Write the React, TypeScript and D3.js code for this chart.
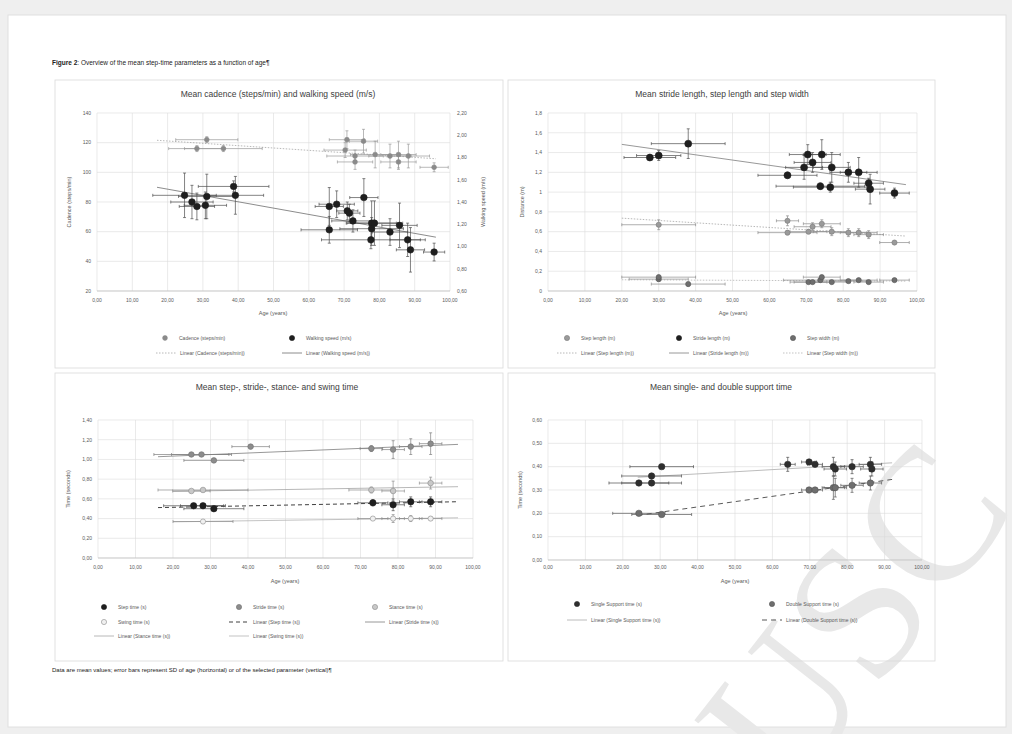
import React from 'react';
import * as d3 from 'd3';

// ---------- Data ----------
const xTickValues = [0, 10, 20, 30, 40, 50, 60, 70, 80, 90, 100];

// Panel 1: cadence (left axis) and walking speed (right axis)
const cadAge = [31.1, 28.3, 35.8, 70.8, 75.5, 70.3, 73.1, 78.8, 83.0, 85.4, 88.2, 85.4, 73.1, 95.5];
const cadAgeSD = [8.8, 8, 11, 5, 4, 6, 8, 7, 6, 5, 6, 5, 5, 4];
const cadVal = [122, 116, 116, 122, 121, 115, 111, 112, 111, 112, 111, 107, 107, 103.4];
const cadSD = [2, 2, 2, 6, 8, 5, 4, 9, 8, 9, 8, 5, 5, 3];

const spdAge = [24.8, 26.9, 28.3, 30.7, 31.1, 38.7, 39.2, 65.8, 67.9, 65.8, 70.9, 71.5, 72.5, 75.6, 77.8, 78.6, 77.8, 77.6, 83.0, 85.7, 88.0, 88.8, 95.5];
const spdAgeSD = [9, 6, 5, 6, 8, 10, 8, 4, 5, 8, 3, 3, 6, 4, 7, 8, 9, 14, 5, 5, 5, 4, 3];
const spdVal = [1.46, 1.40, 1.36, 1.37, 1.45, 1.54, 1.46, 1.36, 1.38, 1.15, 1.32, 1.30, 1.23, 1.44, 1.21, 1.21, 1.16, 1.06, 1.13, 1.19, 1.06, 0.97, 0.95];
const spdSD = [0.2, 0.15, 0.12, 0.12, 0.2, 0.05, 0.17, 0.17, 0.12, 0.12, 0.08, 0.08, 0.1, 0.17, 0.2, 0.2, 0.1, 0.08, 0.12, 0.2, 0.15, 0.2, 0.08];
const p1LeftTicks = [20, 40, 60, 80, 100, 120, 140];
const p1RightTicks = [0.6, 0.8, 1.0, 1.2, 1.4, 1.6, 1.8, 2.0, 2.2];

// Panel 2: stride length, step length, step width
const strAge = [27.6, 30.0, 38.0, 64.9, 69.4, 70.4, 71.7, 74.2, 76.9, 81.4, 84.2, 86.9, 87.3, 93.9, 73.8, 76.5];
const strAgeSD = [7, 6, 10, 8, 5, 5, 5, 5, 5, 5, 5, 4, 4, 4, 12, 10];
const strVal = [1.35, 1.37, 1.49, 1.17, 1.25, 1.38, 1.30, 1.38, 1.25, 1.20, 1.20, 1.09, 1.03, 0.99, 1.06, 1.05];
const strSD = [0.03, 0.05, 0.15, 0.03, 0.12, 0.1, 0.1, 0.15, 0.15, 0.1, 0.15, 0.05, 0.15, 0.05, 0.03, 0.05];

const slAge = [30.0, 64.9, 64.9, 70.6, 71.7, 74.2, 76.9, 81.4, 84.2, 86.9, 93.9];
const slAgeSD = [10, 3, 8, 5, 5, 5, 5, 5, 5, 4, 4];
const slVal = [0.67, 0.71, 0.59, 0.60, 0.65, 0.68, 0.60, 0.59, 0.59, 0.57, 0.49];
const slSD = [0.05, 0.05, 0.02, 0.02, 0.04, 0.04, 0.04, 0.04, 0.04, 0.04, 0.02];

const swAge = [30.0, 30.0, 38.0, 70.6, 71.7, 73.8, 74.2, 76.9, 81.4, 84.2, 86.9, 93.9];
const swAgeSD = [8, 10, 10, 5, 5, 10, 5, 5, 5, 5, 4, 4];
const swVal = [0.12, 0.14, 0.07, 0.09, 0.09, 0.11, 0.14, 0.09, 0.10, 0.11, 0.09, 0.11];
const swSD = [0.02, 0.02, 0.02, 0.01, 0.01, 0.01, 0.02, 0.01, 0.01, 0.01, 0.01, 0.01];
const p2Ticks = [0, 0.2, 0.4, 0.6, 0.8, 1.0, 1.2, 1.4, 1.6, 1.8];

// Panel 3: step, stride, stance and swing time
const sptAge = [25.5, 28.0, 30.9, 73.3, 78.7, 83.4, 88.7];
const sptAgeSD = [8, 6, 8, 4, 3, 3, 3];
const sptVal = [0.53, 0.53, 0.50, 0.56, 0.54, 0.57, 0.57];
const sptSD = [0.01, 0.01, 0.01, 0.03, 0.06, 0.05, 0.05];

const stAge = [24.9, 27.6, 30.9, 40.7, 72.9, 78.7, 83.4, 88.7];
const stAgeSD = [10, 8, 8, 5, 3, 3, 3, 3];
const stVal = [1.05, 1.05, 0.99, 1.13, 1.11, 1.10, 1.13, 1.16];
const stSD = [0.01, 0.01, 0.01, 0.01, 0.03, 0.09, 0.08, 0.11];

const stcAge = [24.9, 28.0, 72.9, 78.7, 88.7];
const stcAgeSD = [5, 12, 6, 3, 3];
const stcVal = [0.68, 0.69, 0.69, 0.68, 0.76];
const stcSD = [0.01, 0.01, 0.03, 0.1, 0.06];

const swgAge = [28.0, 73.3, 78.7, 83.4, 88.7];
const swgAgeSD = [8, 4, 3, 3, 3];
const swgVal = [0.37, 0.40, 0.40, 0.40, 0.40];
const swgSD = [0.01, 0.01, 0.04, 0.03, 0.02];
const p3Ticks = [0, 0.2, 0.4, 0.6, 0.8, 1.0, 1.2, 1.4];

// Panel 4: single and double support time
const ssAge = [30.4, 27.7, 27.7, 24.3, 64.1, 69.8, 71.4, 76.3, 76.8, 81.3, 86.2, 86.6];
const ssAgeSD = [8.5, 8, 8, 8, 2, 2, 2, 3, 3, 3, 3, 3];
const ssVal = [0.40, 0.36, 0.33, 0.33, 0.41, 0.42, 0.41, 0.40, 0.39, 0.40, 0.41, 0.39];
const ssSD = [0.004, 0.004, 0.004, 0.004, 0.03, 0.004, 0.004, 0.04, 0.03, 0.03, 0.03, 0.03];

const dsAge = [24.3, 30.4, 69.8, 71.4, 76.3, 76.8, 81.3, 86.2];
const dsAgeSD = [7, 8, 2, 2, 3, 3, 3, 3];
const dsVal = [0.20, 0.195, 0.30, 0.30, 0.31, 0.31, 0.32, 0.33];
const dsSD = [0.004, 0.004, 0.01, 0.01, 0.05, 0.04, 0.03, 0.03];
const p4Ticks = [0, 0.1, 0.2, 0.3, 0.4, 0.5, 0.6];

// ---------- Helpers ----------
const FONT = '"Liberation Sans", Arial, sans-serif';
const comma = (s: string) => s.replace('.', ',');
const f2 = (v: number) => comma(d3.format('.2f')(v));
const fShort = (v: number) => comma(String(+v.toFixed(2)));
const fInt = (v: number) => String(v);

function regression(xs: number[], ys: number[]) {
  const mx = d3.mean(xs)!;
  const my = d3.mean(ys)!;
  let num = 0, den = 0;
  xs.forEach((x, i) => { num += (x - mx) * (ys[i] - my); den += (x - mx) * (x - mx); });
  const b = num / den;
  const a = my - b * mx;
  return (x: number) => a + b * x;
}

type Series = {
  age: number[]; ageSD: number[]; val: number[]; sd: number[];
  fill: string; stroke: string; r: number; bar: string; axis?: 'left' | 'right';
  trend: { color: string; dash: string; width: number; from: number; to: number };
};

type Legend = { kind: 'marker' | 'line'; s: number; x: number; y: number; text: string };

type PanelCfg = {
  box: [number, number, number, number];
  plot: [number, number, number, number]; // x0, x1, yTop, yBottom
  title: string; titleX: number; titleY: number;
  yDomain: [number, number]; yTicks: number[]; yFmt: (v: number) => string;
  yLabel: string; yLabelX: number;
  rDomain?: [number, number]; rTicks?: number[]; rLabel?: string; rLabelX?: number;
  xLabelX: number; xTickY: number; xLabelY: number;
  series: Series[]; legend: Legend[];
};

function Panel({ cfg }: { cfg: PanelCfg }) {
  const [bx, by, bw, bh] = cfg.box;
  const [x0, x1, yt, yb] = cfg.plot;
  const x = d3.scaleLinear().domain([0, 100]).range([x0, x1]);
  const y = d3.scaleLinear().domain(cfg.yDomain).range([yb, yt]);
  const yr = cfg.rDomain ? d3.scaleLinear().domain(cfg.rDomain).range([yb, yt]) : y;
  const line = d3.line<[number, number]>();
  return (
    <g>
      <rect x={bx} y={by} width={bw} height={bh} fill="none" stroke="#d9d9d9" strokeWidth={0.8} />
      <text x={cfg.titleX} y={cfg.titleY} textAnchor="middle" fontSize={8.5} fill="#404040" fontFamily={FONT}>{cfg.title}</text>
      {xTickValues.map(t => (
        <line key={'gx' + t} x1={x(t)} x2={x(t)} y1={yt} y2={yb} stroke="#dcdcdc" strokeWidth={0.6} />
      ))}
      {cfg.yTicks.map(t => (
        <line key={'gy' + t} x1={x0} x2={x1} y1={y(t)} y2={y(t)} stroke="#dcdcdc" strokeWidth={0.6} />
      ))}
      <line x1={x0} x2={x1} y1={yb} y2={yb} stroke="#bfbfbf" strokeWidth={0.7} />
      {xTickValues.map(t => (
        <text key={'tx' + t} x={x(t)} y={cfg.xTickY} textAnchor="middle" fontSize={5} fill="#595959" fontFamily={FONT}>{f2(t)}</text>
      ))}
      {cfg.yTicks.map(t => (
        <text key={'ty' + t} x={x0 - 6} y={y(t) + 1.8} textAnchor="end" fontSize={5} fill="#595959" fontFamily={FONT}>{cfg.yFmt(t)}</text>
      ))}
      {cfg.rTicks && cfg.rTicks.map(t => (
        <text key={'tr' + t} x={x1 + 7} y={yr(t) + 1.8} textAnchor="start" fontSize={5} fill="#595959" fontFamily={FONT}>{f2(t)}</text>
      ))}
      <text x={cfg.xLabelX} y={cfg.xLabelY} textAnchor="middle" fontSize={5.5} fill="#595959" fontFamily={FONT}>Age (years)</text>
      <text transform={`translate(${cfg.yLabelX},${(yt + yb) / 2}) rotate(-90)`} textAnchor="middle" fontSize={5.5} fill="#595959" fontFamily={FONT}>{cfg.yLabel}</text>
      {cfg.rLabel && (
        <text transform={`translate(${cfg.rLabelX},${(yt + yb) / 2}) rotate(-90)`} textAnchor="middle" fontSize={5.5} fill="#595959" fontFamily={FONT}>{cfg.rLabel}</text>
      )}
      {cfg.series.map((s, si) => {
        const sc = s.axis === 'right' ? yr : y;
        const fn = regression(s.age, s.val);
        const pts: [number, number][] = [[x(s.trend.from), sc(fn(s.trend.from))], [x(s.trend.to), sc(fn(s.trend.to))]];
        return <path key={'tr' + si} d={line(pts)!} stroke={s.trend.color} strokeWidth={s.trend.width} strokeDasharray={s.trend.dash} fill="none" />;
      })}
      {cfg.series.map((s, si) => {
        const sc = s.axis === 'right' ? yr : y;
        return (
          <g key={'s' + si}>
            {s.age.map((a, i) => {
              const cx = x(a), cy = sc(s.val[i]);
              const xa = x(a - s.ageSD[i]), xb = x(a + s.ageSD[i]);
              const ya = sc(s.val[i] + s.sd[i]), yb2 = sc(s.val[i] - s.sd[i]);
              return (
                <g key={i} stroke={s.bar} strokeWidth={0.7}>
                  <line x1={xa} x2={xb} y1={cy} y2={cy} />
                  <line x1={xa} x2={xa} y1={cy - 1.5} y2={cy + 1.5} />
                  <line x1={xb} x2={xb} y1={cy - 1.5} y2={cy + 1.5} />
                  <line x1={cx} x2={cx} y1={ya} y2={yb2} />
                  <line x1={cx - 1.5} x2={cx + 1.5} y1={ya} y2={ya} />
                  <line x1={cx - 1.5} x2={cx + 1.5} y1={yb2} y2={yb2} />
                </g>
              );
            })}
            {s.age.map((a, i) => (
              <circle key={'c' + i} cx={x(a)} cy={sc(s.val[i])} r={s.r} fill={s.fill} stroke={s.stroke} strokeWidth={0.6} />
            ))}
          </g>
        );
      })}
      {cfg.legend.map((l, li) => {
        const s = cfg.series[l.s];
        return (
          <g key={'l' + li}>
            {l.kind === 'marker'
              ? <circle cx={l.x} cy={l.y} r={Math.min(s.r, 2.6)} fill={s.fill} stroke={s.stroke} strokeWidth={0.6} />
              : <line x1={l.x - 10} x2={l.x + 10} y1={l.y} y2={l.y} stroke={s.trend.color} strokeWidth={s.trend.width} strokeDasharray={s.trend.dash} />}
            <text x={l.x + 14} y={l.y + 1.8} fontSize={5} fill="#595959" fontFamily={FONT}>{l.text}</text>
          </g>
        );
      })}
    </g>
  );
}

const BLACK = '#1e1e1e';

const panels: PanelCfg[] = [
  {
    box: [55, 80, 448, 288], plot: [97, 450, 113, 291],
    title: 'Mean cadence (steps/min) and walking speed (m/s)', titleX: 278, titleY: 97,
    yDomain: [20, 140], yTicks: p1LeftTicks, yFmt: fInt, yLabel: 'Cadence (steps/min)', yLabelX: 71,
    rDomain: [0.6, 2.2], rTicks: p1RightTicks, rLabel: 'Walking speed (m/s)', rLabelX: 485,
    xLabelX: 273, xTickY: 302, xLabelY: 315,
    series: [
      { age: cadAge, ageSD: cadAgeSD, val: cadVal, sd: cadSD, fill: '#8a8a8a', stroke: '#8a8a8a', r: 2.4, bar: '#9a9a9a',
        trend: { color: '#a6a6a6', dash: '1.5,1.5', width: 0.8, from: 17, to: 96 } },
      { age: spdAge, ageSD: spdAgeSD, val: spdVal, sd: spdSD, fill: BLACK, stroke: BLACK, r: 3.3, bar: '#4d4d4d', axis: 'right',
        trend: { color: '#7f7f7f', dash: '', width: 0.9, from: 17, to: 96 } },
    ],
    legend: [
      { kind: 'marker', s: 0, x: 165, y: 338, text: 'Cadence (steps/min)' },
      { kind: 'marker', s: 1, x: 292, y: 338, text: 'Walking speed (m/s)' },
      { kind: 'line', s: 0, x: 166, y: 353, text: 'Linear (Cadence (steps/min))' },
      { kind: 'line', s: 1, x: 292, y: 353, text: 'Linear (Walking speed (m/s))' },
    ],
  },
  {
    box: [508, 80, 427, 288], plot: [548, 917, 113, 291],
    title: 'Mean stride length, step length and step width', titleX: 722, titleY: 97,
    yDomain: [0, 1.8], yTicks: p2Ticks, yFmt: fShort, yLabel: 'Distance (m)', yLabelX: 524,
    xLabelX: 733, xTickY: 302, xLabelY: 315,
    series: [
      { age: slAge, ageSD: slAgeSD, val: slVal, sd: slSD, fill: '#9a9a9a', stroke: '#7a7a7a', r: 2.6, bar: '#8c8c8c',
        trend: { color: '#a6a6a6', dash: '1.5,1.5', width: 0.8, from: 20, to: 97 } },
      { age: strAge, ageSD: strAgeSD, val: strVal, sd: strSD, fill: BLACK, stroke: BLACK, r: 3.5, bar: '#4d4d4d',
        trend: { color: '#8c8c8c', dash: '', width: 0.9, from: 20, to: 97 } },
      { age: swAge, ageSD: swAgeSD, val: swVal, sd: swSD, fill: '#6e6e6e', stroke: '#555', r: 2.6, bar: '#8c8c8c',
        trend: { color: '#b4b4b4', dash: '1.5,1.5', width: 0.8, from: 20, to: 97 } },
    ],
    legend: [
      { kind: 'marker', s: 0, x: 567, y: 338, text: 'Step length (m)' },
      { kind: 'marker', s: 1, x: 679, y: 338, text: 'Stride length (m)' },
      { kind: 'marker', s: 2, x: 793, y: 338, text: 'Step width (m)' },
      { kind: 'line', s: 0, x: 567, y: 353, text: 'Linear (Step length (m))' },
      { kind: 'line', s: 1, x: 679, y: 353, text: 'Linear (Stride length (m))' },
      { kind: 'line', s: 2, x: 793, y: 353, text: 'Linear (Step width (m))' },
    ],
  },
  {
    box: [55, 373, 448, 288], plot: [98, 473, 420, 558],
    title: 'Mean step-, stride-, stance- and swing time', titleX: 277, titleY: 390,
    yDomain: [0, 1.4], yTicks: p3Ticks, yFmt: f2, yLabel: 'Time (seconds)', yLabelX: 70,
    xLabelX: 285, xTickY: 569, xLabelY: 583,
    series: [
      { age: sptAge, ageSD: sptAgeSD, val: sptVal, sd: sptSD, fill: BLACK, stroke: BLACK, r: 3.2, bar: '#4d4d4d',
        trend: { color: '#404040', dash: '4,3', width: 1, from: 16, to: 96 } },
      { age: stAge, ageSD: stAgeSD, val: stVal, sd: stSD, fill: '#8c8c8c', stroke: '#6e6e6e', r: 2.8, bar: '#808080',
        trend: { color: '#8c8c8c', dash: '', width: 0.9, from: 16, to: 96 } },
      { age: stcAge, ageSD: stcAgeSD, val: stcVal, sd: stcSD, fill: '#c8c8c8', stroke: '#8c8c8c', r: 2.8, bar: '#8c8c8c',
        trend: { color: '#a6a6a6', dash: '', width: 0.8, from: 20, to: 96 } },
      { age: swgAge, ageSD: swgAgeSD, val: swgVal, sd: swgSD, fill: '#f0f0f0', stroke: '#8c8c8c', r: 2.6, bar: '#8c8c8c',
        trend: { color: '#b4b4b4', dash: '', width: 0.8, from: 20, to: 96 } },
    ],
    legend: [
      { kind: 'marker', s: 0, x: 104, y: 607, text: 'Step time (s)' },
      { kind: 'marker', s: 1, x: 239, y: 607, text: 'Stride time (s)' },
      { kind: 'marker', s: 2, x: 375, y: 607, text: 'Stance time (s)' },
      { kind: 'marker', s: 3, x: 104, y: 622, text: 'Swing time (s)' },
      { kind: 'line', s: 0, x: 239, y: 622, text: 'Linear (Step time (s))' },
      { kind: 'line', s: 1, x: 375, y: 622, text: 'Linear (Stride time (s))' },
      { kind: 'line', s: 2, x: 104, y: 636, text: 'Linear (Stance time (s))' },
      { kind: 'line', s: 3, x: 239, y: 636, text: 'Linear (Swing time (s))' },
    ],
  },
  {
    box: [508, 373, 427, 288], plot: [548, 922, 420, 560],
    title: 'Mean single- and double support time', titleX: 721, titleY: 390,
    yDomain: [0, 0.6], yTicks: p4Ticks, yFmt: f2, yLabel: 'Time (seconds)', yLabelX: 522,
    xLabelX: 735, xTickY: 569, xLabelY: 583,
    series: [
      { age: ssAge, ageSD: ssAgeSD, val: ssVal, sd: ssSD, fill: '#2e2e2e', stroke: '#2e2e2e', r: 3.2, bar: '#4d4d4d',
        trend: { color: '#b4b4b4', dash: '', width: 0.9, from: 24, to: 92 } },
      { age: dsAge, ageSD: dsAgeSD, val: dsVal, sd: dsSD, fill: '#6e6e6e', stroke: '#555', r: 3.2, bar: '#595959',
        trend: { color: '#595959', dash: '5,4', width: 1, from: 24, to: 92 } },
    ],
    legend: [
      { kind: 'marker', s: 0, x: 577, y: 604, text: 'Single Support time (s)' },
      { kind: 'marker', s: 1, x: 772, y: 604, text: 'Double Support time (s)' },
      { kind: 'line', s: 0, x: 577, y: 620, text: 'Linear (Single Support time (s))' },
      { kind: 'line', s: 1, x: 772, y: 620, text: 'Linear (Double Support time (s))' },
    ],
  },
];

export default function App() {
  return (
    <svg width={1012} height={734} style={{ position: 'absolute', left: 0, top: 0, display: 'block' }}>
      <rect x={0} y={0} width={1012} height={734} fill="#efefef" />
      <rect x={8} y={15} width={998} height={712} fill="#ffffff" stroke="#e0e0e0" strokeWidth={1} />
      <text transform="translate(790,800) rotate(-52)" fontSize={190} fill="#e8e8e8"
        fontFamily='"Liberation Serif", "DejaVu Serif", serif'>USC</text>
      <text x={52} y={65} fontSize={6.5} fill="#222" fontFamily={FONT}>
        <tspan fontWeight="bold">Figure 2</tspan>
        <tspan>: Overview of the mean step-time parameters as a function of age¶</tspan>
      </text>
      {panels.map((p, i) => <Panel key={i} cfg={p} />)}
      <text x={52} y={672} fontSize={6} fill="#222" fontFamily={FONT}>
        Data are mean values; error bars represent SD of age (horizontal) or of the selected parameter (vertical)¶
      </text>
    </svg>
  );
}
